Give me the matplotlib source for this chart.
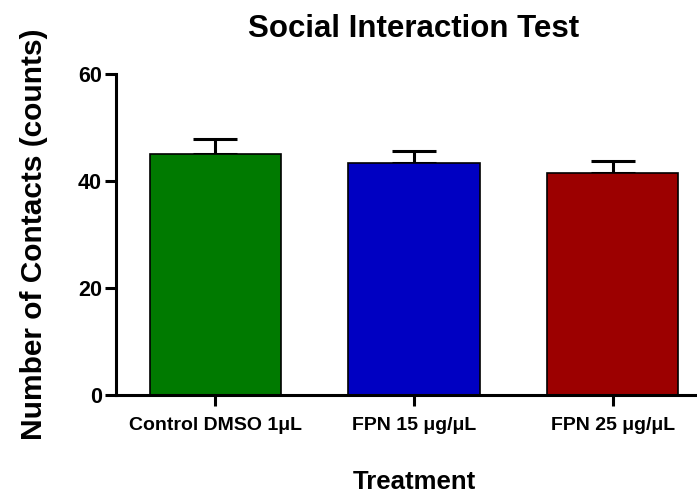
import matplotlib
matplotlib.use("Agg")
import matplotlib.pyplot as plt

plt.rcParams['font.family'] = ['Liberation Sans', 'DejaVu Sans']

groups = ["Control DMSO 1μL", "FPN 15 μg/μL", "FPN 25 μg/μL"]
means = [45.0, 43.4, 41.5]
sem = [2.9, 2.2, 2.2]
colors = ["#007a00", "#0000c2", "#9c0000"]

fig = plt.figure(figsize=(6.97, 4.95), dpi=100)
W, H = 697, 495
left, right, top, bottom = 116, 712, 74, 395
ax = fig.add_axes([left / W, 1 - bottom / H, (right - left) / W, (bottom - top) / H])

x = range(len(groups))
ax.bar(x, means, width=0.66, color=colors, edgecolor="black", linewidth=1.2, zorder=2)
ax.errorbar(x, means, yerr=[[0] * len(sem), sem], fmt="none", ecolor="black",
            elinewidth=2.2, capsize=16, capthick=2.2, zorder=1)

ax.set_xlim(-0.5, 2.5)
ax.set_ylim(0, 60)
ax.set_yticks([0, 20, 40, 60])
ax.set_xticks(list(x))
ax.set_xticklabels(groups, fontsize=14, fontweight="bold")
for lab in ax.get_yticklabels():
    lab.set_fontsize(15.5)
    lab.set_fontweight("bold")

for s in ["top", "right"]:
    ax.spines[s].set_visible(False)
for s in ["left", "bottom"]:
    ax.spines[s].set_linewidth(2.2)
ax.tick_params(axis="both", width=2.2, length=8, direction="out", pad=2)
ax.tick_params(axis="x", pad=8)

ax.set_title("Social Interaction Test", fontsize=22.5, fontweight="bold", pad=27)
ax.set_ylabel("Number of Contacts (counts)", fontsize=21.5, fontweight="bold", labelpad=22)
ax.set_xlabel("Treatment", fontsize=18.5, fontweight="bold", labelpad=26)

fig.savefig("out.png", dpi=100)
